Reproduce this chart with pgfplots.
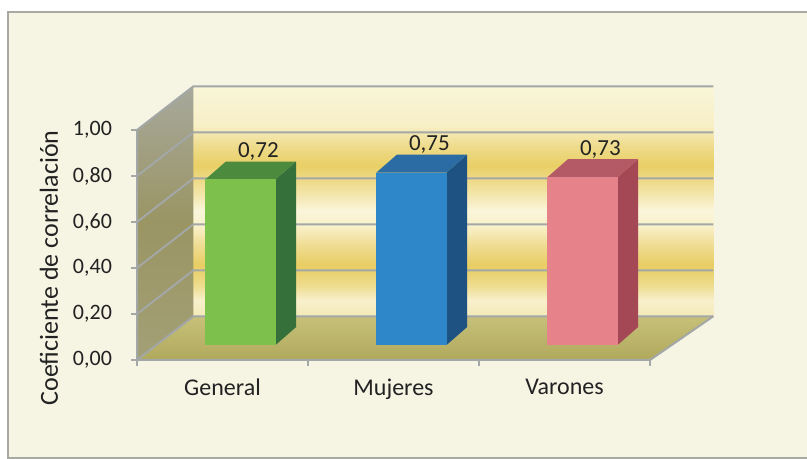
\documentclass[border=0pt]{standalone}
\usepackage{pgfplots}
\pgfplotsset{compat=1.18}
\usepackage{pgfplotstable}
\usepackage{fontspec}
\setmainfont{Carlito}

\definecolor{bgcream}{HTML}{F6F5E4}
\definecolor{framegray}{HTML}{A9A9A4}
\definecolor{gridgray}{HTML}{A3A7A6}
\definecolor{txt}{HTML}{222222}
\definecolor{wA}{HTML}{F3E9B8}
\definecolor{wB}{HTML}{F7F0CC}
\definecolor{wC}{HTML}{EEDC8E}
\definecolor{wD}{HTML}{E8CD62}
\definecolor{wE}{HTML}{EFDC92}
\definecolor{wF}{HTML}{F8F1CC}
\definecolor{wG}{HTML}{FAF5DA}
\definecolor{wH}{HTML}{F1E2A0}
\definecolor{wI}{HTML}{E9CF65}
\definecolor{wJ}{HTML}{EFDC8E}
\definecolor{wK}{HTML}{F7EFC6}
\definecolor{wL}{HTML}{F9F5D8}
\definecolor{sA}{HTML}{A3A077}
\definecolor{sB}{HTML}{9A9563}
\definecolor{sC}{HTML}{A7A89C}
\definecolor{fBack}{HTML}{C6C07A}
\definecolor{fFront}{HTML}{B0A95C}
\definecolor{gfront}{HTML}{7DC04B}
\definecolor{gside}{HTML}{35703A}
\definecolor{gtop}{HTML}{4C8B3E}
\definecolor{bfront}{HTML}{2D87C9}
\definecolor{bside}{HTML}{1E5283}
\definecolor{btop}{HTML}{2A6CA3}
\definecolor{pfront}{HTML}{E6838A}
\definecolor{pside}{HTML}{A44855}
\definecolor{ptop}{HTML}{B45A67}

\pgfdeclareverticalshading{backwall}{100bp}{color(0bp)=(wA); color(25bp)=(wA); color(28.5bp)=(wB); color(31.7bp)=(wC); color(36.1bp)=(wD); color(40.4bp)=(wE); color(44.8bp)=(wF); color(48bp)=(wG); color(52.4bp)=(wH); color(57.8bp)=(wI); color(62.2bp)=(wJ); color(66.5bp)=(wK); color(75bp)=(wL); color(100bp)=(wL)}
\pgfdeclareverticalshading{sidewall}{100bp}{color(0bp)=(sA); color(25bp)=(sA); color(50bp)=(sB); color(75bp)=(sC); color(100bp)=(sC)}

\pgfplotstableread{
cat v
General 0.72
Mujeres 0.75
Varones 0.73
}\corrdata

\begin{document}
\begin{tikzpicture}
\path[use as bounding box] (0,0) rectangle (403.5pt,229.5pt);
\draw[draw=framegray, line width=1pt, fill=bgcream] (4pt,0.5pt) rectangle (410pt,223.5pt);
\begin{axis}[
  at={(68.5pt,49.5pt)}, anchor=south west,
  x=85.5pt, y=115pt,
  xmin=0, xmax=3.4, ymin=0, ymax=1.2,
  clip=false,
  axis x line*=bottom, axis y line*=left,
  x axis line style={draw=none}, y axis line style={draw=none},
  xtick={0,1,2,3}, x tick label as interval,
  xticklabels={General,Mujeres,Varones},
  ytick={0,0.2,0.4,0.6,0.8,1},
  tick align=outside, major tick length=3pt,
  tick style={draw=gridgray, line width=1pt},
  xticklabel style={font=\fontsize{12}{14}\selectfont, text=txt, yshift=-3pt},
  yticklabel style={font=\fontsize{11}{13}\selectfont, text=txt, xshift=-6pt},
  ylabel={Coeficiente de correlación},
  ylabel style={at={(rel axis cs:-0.1514,0.3333)}, anchor=center, font=\fontsize{13}{15}\selectfont, text=txt},
  /pgf/number format/fixed,
  /pgf/number format/fixed zerofill,
  /pgf/number format/precision=2,
  /pgf/number format/use comma,
  /pgf/number format/assume math mode=true,
]
\addplot[draw=none, shading=backwall] coordinates {(0.33,0.19) (3.37,0.19) (3.37,1.19) (0.33,1.19)};
\addplot[draw=none, shading=sidewall] coordinates {(0,0) (0,1) (0.33,1.19) (0.33,0.19)};
\addplot[draw=none, top color=fBack, bottom color=fFront] coordinates {(0,0) (3,0) (3.37,0.19) (0.33,0.19)};
\addplot[draw=gridgray, line width=1pt, mark=none, unbounded coords=jump] coordinates {
 (0,0) (0.33,0.19) (3.37,0.19) (nan,nan)
 (0,0.2) (0.33,0.39) (3.37,0.39) (nan,nan)
 (0,0.4) (0.33,0.59) (3.37,0.59) (nan,nan)
 (0,0.6) (0.33,0.79) (3.37,0.79) (nan,nan)
 (0,0.8) (0.33,0.99) (3.37,0.99) (nan,nan)
 (0,1) (0.33,1.19) (3.37,1.19)
};
\addplot[draw=gridgray, line width=1pt, mark=none] coordinates {(0,1) (0,0) (3,0) (3.37,0.19)};
\addplot[fill=gside, draw=none] coordinates {(0.81,0.065) (0.93,0.143) (0.93,0.863) (0.81,0.785)};
\addplot[fill=gtop, draw=none] coordinates {(0.40,0.785) (0.81,0.785) (0.93,0.863) (0.52,0.863)};
\addplot[fill=gfront, draw=none] coordinates {(0.40,0.065) (0.81,0.065) (0.81,0.785) (0.40,0.785)};
\addplot[fill=bside, draw=none] coordinates {(1.81,0.065) (1.93,0.143) (1.93,0.893) (1.81,0.815)};
\addplot[fill=btop, draw=none] coordinates {(1.40,0.815) (1.81,0.815) (1.93,0.893) (1.52,0.893)};
\addplot[fill=bfront, draw=none] coordinates {(1.40,0.065) (1.81,0.065) (1.81,0.815) (1.40,0.815)};
\addplot[fill=pside, draw=none] coordinates {(2.81,0.065) (2.93,0.143) (2.93,0.873) (2.81,0.795)};
\addplot[fill=ptop, draw=none] coordinates {(2.40,0.795) (2.81,0.795) (2.93,0.873) (2.52,0.873)};
\addplot[fill=pfront, draw=none] coordinates {(2.40,0.065) (2.81,0.065) (2.81,0.795) (2.40,0.795)};
\addplot[draw=none, mark=none, point meta=explicit,
  nodes near coords={\pgfmathprintnumber[fixed,fixed zerofill,precision=2,use comma,assume math mode=true]{\pgfplotspointmeta}},
  every node near coord/.append style={anchor=center, font=\fontsize{11.5}{13}\selectfont, text=txt}]
  table[x expr=\coordindex+0.71, y expr=\thisrow{v}+0.185, meta=v] {\corrdata};
\end{axis}
\end{tikzpicture}
\end{document}
